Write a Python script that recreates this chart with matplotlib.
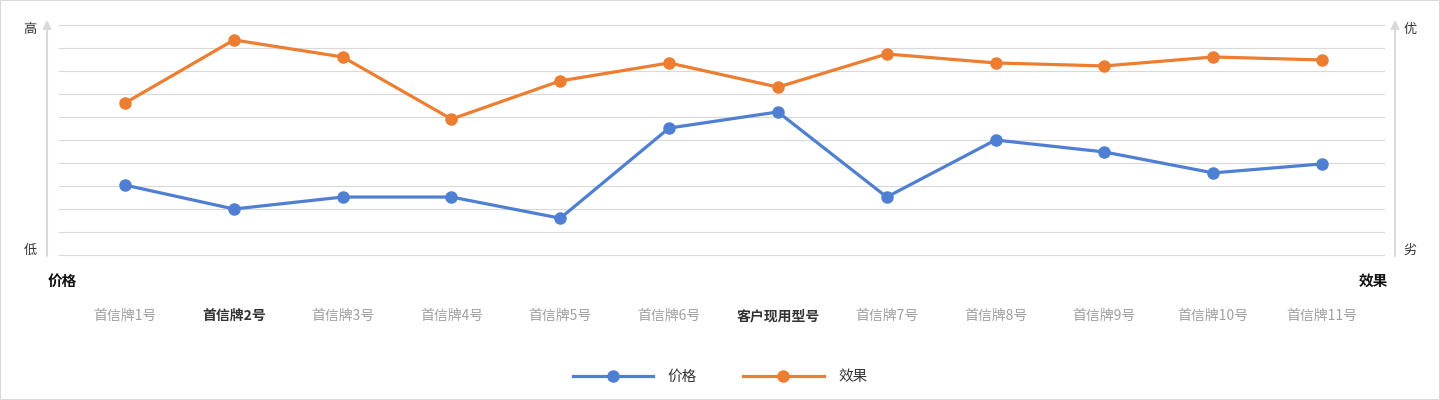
import matplotlib.pyplot as plt
from matplotlib.lines import Line2D
from matplotlib.patches import Rectangle

plt.rcParams['font.family'] = ['Noto Sans CJK SC', 'DejaVu Sans']

# data (0 = 低/劣, 10 = 高/优)
models = ['首信牌1号', '首信牌2号', '首信牌3号', '首信牌4号', '首信牌5号', '首信牌6号',
          '客户现用型号', '首信牌7号', '首信牌8号', '首信牌9号', '首信牌10号', '首信牌11号']
price = [3.04, 2.0, 2.52, 2.52, 1.6, 5.52, 6.22, 2.52, 5.0, 4.48, 3.57, 3.96]
effect = [6.61, 9.35, 8.61, 5.91, 7.57, 8.35, 7.30, 8.74, 8.35, 8.22, 8.61, 8.48]
highlight = ['首信牌2号', '客户现用型号']

blue = '#4f7fd3'
orange = '#ed7d31'
grid_c = '#d9d9d9'

fig = plt.figure(figsize=(14.4, 4), dpi=100)
ax = fig.add_axes([59/1440, 1-255/400, (1384-59)/1440, 230/400])

x = list(range(len(models)))
ax.plot(x, price, color=blue, lw=2.3, marker='o', ms=8, label='价格', zorder=3)
ax.plot(x, effect, color=orange, lw=2.3, marker='o', ms=8, label='效果', zorder=3)

ax.set_xlim(-0.607, 11.57)
ax.set_ylim(0, 10)
ax.set_yticks(range(11))
ax.yaxis.grid(True, color=grid_c, lw=0.8)
for gl in ax.get_ygridlines():
    gl.set_clip_on(False)
ax.set_yticklabels([])
ax.tick_params(axis='y', length=0)
for s in ax.spines.values():
    s.set_visible(False)

ax.set_xticks(x)
ax.set_xticklabels(models, fontsize=10)
ax.tick_params(axis='x', length=0, pad=39)
for lbl in ax.get_xticklabels():
    if lbl.get_text() in highlight:
        lbl.set_color('#333333')
        lbl.set_fontweight('bold')
    else:
        lbl.set_color('#a0a0a0')

# side arrows
for xp in (47, 1395):
    ax.annotate('', xy=(xp/1440, 1-20/400), xytext=(xp/1440, 1-256/400),
                xycoords='figure fraction', textcoords='figure fraction',
                arrowprops=dict(arrowstyle='-|>', color=grid_c, lw=1.5,
                                mutation_scale=12, shrinkA=0, shrinkB=0))

fig.text(30/1440, 1-30/400, '高', fontsize=9.5, color='#333333', ha='center', va='center')
fig.text(30/1440, 1-250/400, '低', fontsize=9.5, color='#333333', ha='center', va='center')
fig.text(1410/1440, 1-30/400, '优', fontsize=9.5, color='#333333', ha='center', va='center')
fig.text(1410/1440, 1-250/400, '劣', fontsize=9.5, color='#333333', ha='center', va='center')
fig.text(62/1440, 1-281/400, '价格', fontsize=10.5, fontweight='bold', color='#111111',
         ha='center', va='center')
fig.text(1373/1440, 1-281/400, '效果', fontsize=10.5, fontweight='bold', color='#111111',
         ha='center', va='center')

handles = [Line2D([], [], color=blue, lw=2.3, marker='o', ms=8),
           Line2D([], [], color=orange, lw=2.3, marker='o', ms=8)]
fig.legend(handles, ['价格', '效果'], loc='center', bbox_to_anchor=(720/1440, 1-377/400),
           ncol=2, frameon=False, fontsize=10.5, handlelength=5.5,
           handletextpad=1.0, columnspacing=3.2, labelcolor='#333333')

fig.add_artist(Rectangle((0, 0), 1, 1, transform=fig.transFigure, fill=False,
                         edgecolor=grid_c, lw=1.5))

fig.savefig('out.png', dpi=100)
